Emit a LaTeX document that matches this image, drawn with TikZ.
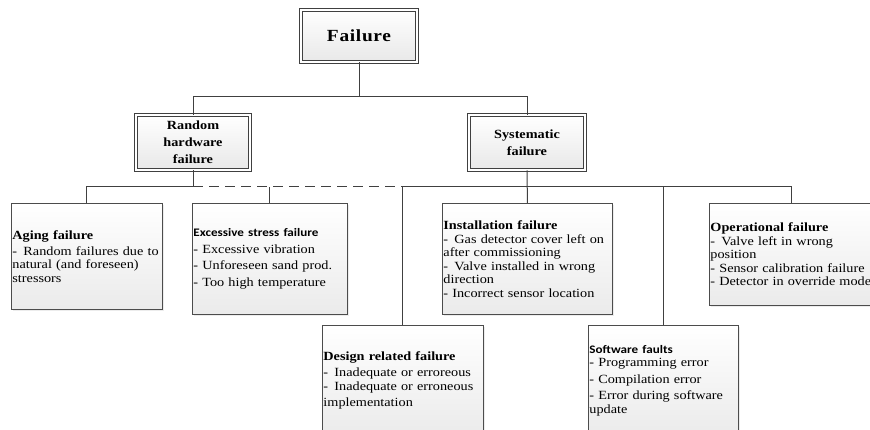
\documentclass[tikz,border=0pt]{standalone}
\usepackage{fontspec}
\setmainfont{Liberation Serif}[FakeStretch=1.14]
\newfontfamily\califont{Carlito}[FakeStretch=1.14]
\usetikzlibrary{shadows}

\begin{document}
\begin{tikzpicture}[
  x=1pt, y=-1pt,
  box/.style={rectangle, draw=black!75, double=white, double distance=1.6pt, line width=0.9pt, top color=white, bottom color=gray!18, align=center, font=\fontsize{12.5}{17}\selectfont\bfseries, drop shadow={shadow xshift=2pt, shadow yshift=-2pt, opacity=0.18}},
  leaf/.style={rectangle, draw=black!70, line width=0.9pt, top color=white, bottom color=gray!16, anchor=north west, align=left, inner xsep=1pt, inner ysep=2pt, font=\fontsize{12.5}{13.5}\selectfont, drop shadow={shadow xshift=2pt, shadow yshift=-2pt, opacity=0.15}},
  link/.style={draw=black!75, line width=1pt}
  ]

\clip (0,0) rectangle (870,430);
\fill[white] (0,0) rectangle (870,430);

\node[box, minimum width=116pt, minimum height=52pt, font=\fontsize{17}{20}\selectfont\bfseries\addfontfeatures{LetterSpace=4}] (fail) at (359,36) {Failure};

\node[box, minimum width=114pt, minimum height=55pt] (rand) at (193,142.5) {Random\\hardware\\failure};

\node[box, minimum width=116pt, minimum height=55pt] (sys) at (527,142.5) {Systematic\\failure};

\node[leaf, text width=149pt, minimum height=106pt] (aging) at (11,203) {
  \textbf{Aging failure}\\[2pt]
  -\, Random failures due to\\
  natural (and foreseen)\\
  stressors
};

\node[leaf, text width=153pt, minimum height=111pt] (stress) at (192,203) {
  {\califont\bfseries\fontsize{11.5}{13.5}\selectfont Excessive stress failure}\\[3pt]
  - Excessive vibration\\[3pt]
  - Unforeseen sand prod.\\[3pt]
  - Too high temperature
};

\node[leaf, text width=168pt, minimum height=111pt] (inst) at (442,203) {
  \textbf{Installation failure}\\
  -\, Gas detector cover left on\\
  after commissioning\\
  -\, Valve installed in wrong\\
  direction\\
  - Incorrect sensor location
};

\node[leaf, text width=162pt, minimum height=102pt] (oper) at (709,203) {
  \textbf{Operational failure}\\
  -\, Valve left in wrong\\
  position\\
  - Sensor calibration failure\\
  - Detector in override mode
};

\node[leaf, text width=159pt, minimum height=110pt] (design) at (322,325) {
  \textbf{Design related failure}\\[3pt]
  -\, Inadequate or erroreous\\
  -\, Inadequate or erroneous\\[3pt]
  implementation
};

\node[leaf, text width=148pt, minimum height=110pt] (soft) at (588,325) {
  {\califont\bfseries\fontsize{11.5}{13.5}\selectfont Software faults}\\
  - Programming error\\[3pt]
  - Compilation error\\[3pt]
  - Error during software\\
  update
};

\coordinate (hub) at (359,97);
\coordinate (rbus) at (193,187);

\draw[link] (fail.south) -- (hub);
\draw[link] (rand.north) -- (rand.north |- hub) -- (sys.north |- hub) -- (sys.north);
\draw[link] (rand.south) -- (rbus) -- (aging.north |- rbus) -- (aging.north);
\draw[link, dash pattern=on 10pt off 6pt] (rbus) -- (design.north |- rbus);
\draw[link] (stress.north) -- (stress.north |- rbus);
\draw[link] (sys.south) -- (inst.north);
\draw[link] (design.north) -- (design.north |- rbus) -- (oper.north |- rbus) -- (oper.north);
\draw[link] (soft.north) -- (soft.north |- rbus);

\end{tikzpicture}
\end{document}
